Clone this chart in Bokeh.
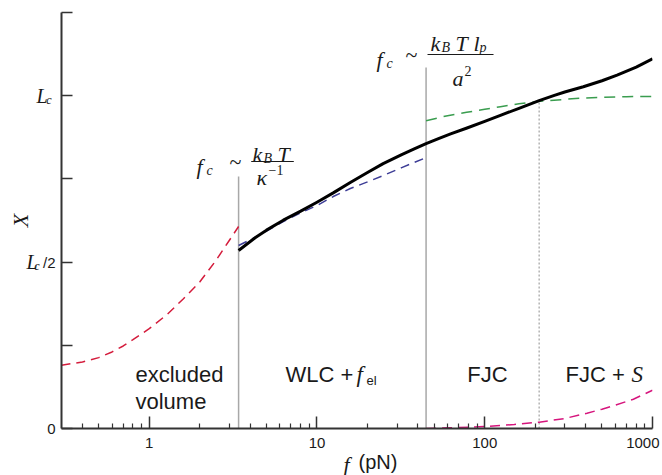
from bokeh.plotting import figure
from bokeh.models import Label, FixedTicker, LinearAxis, LogAxis, Range1d
from bokeh.embed import file_html
from bokeh.resources import INLINE

# ---- data (f in pN, X in units of Lc) ----
f_total = [3.41, 4.3, 5, 6.3, 8, 10, 12.5, 15.8, 20, 24.8, 32, 38, 44.7, 53, 62.6, 78.4,
           100, 124, 160, 211, 260, 300, 387, 500, 615, 800, 1000]
x_total = [0.535, 0.574, 0.596, 0.626, 0.653, 0.680, 0.708, 0.739, 0.769, 0.796,
           0.823, 0.840, 0.856, 0.871, 0.885, 0.903, 0.923, 0.941, 0.962, 0.985,
           1.001, 1.011, 1.027, 1.045, 1.062, 1.086, 1.111]

f_wlc = [3.41, 4.3, 5, 6.3, 8, 10, 12.5, 15.8, 20, 24.8, 32, 44.7]
x_wlc = [0.55, 0.575, 0.593, 0.622, 0.648, 0.670, 0.697, 0.721, 0.741, 0.760, 0.784, 0.814]

f_ev = [0.3, 0.4, 0.5, 0.6, 0.7, 0.8, 1.0, 1.28, 1.6, 2.0, 2.5, 3.0, 3.41]
x_ev = [0.19, 0.20, 0.213, 0.23, 0.248, 0.267, 0.30, 0.343, 0.39, 0.44, 0.505, 0.565, 0.607]

f_fjc = [44.7, 60, 78, 100, 124, 160, 211, 300, 387, 500, 700, 1000]
x_fjc = [0.925, 0.940, 0.950, 0.959, 0.967, 0.976, 0.983, 0.989, 0.993, 0.995, 0.997, 0.998]

f_s = [44.7, 60, 80, 100, 150, 211, 300, 407, 500, 600, 769, 1000]
x_s = [0.0, 0.002, 0.004, 0.006, 0.012, 0.019, 0.030, 0.046, 0.058, 0.070, 0.088, 0.115]

f_bounds = [3.41, 44.7]
top_bounds = [0.757, 1.085]
f_cross = [211]
top_cross = [0.985]

x_major = [1, 10, 100, 1000]
x_major_labels = ["1", "10", "100", "1000"]
x_minor = [0.4, 0.5, 0.6, 0.7, 0.8, 0.9, 2, 3, 4, 5, 6, 7, 8, 9,
           20, 30, 40, 50, 60, 70, 80, 90, 200, 300, 400, 500, 600, 700, 800, 900]
y_major = [0, 0.25, 0.5, 0.75, 1.0, 1.25]
y_named = {0.5: "L", 1.0: "L"}        # tick labels L_c/2 and L_c
x_title_pos = {"f": 15.0, "(pN)": 23.1}  # where the parts of the axis title sit (in pN)

NB = "\u00a0"
SERIF = "Liberation Serif"
SANS = "Liberation Sans"
INK = "#1a1a1a"
FRAME_L, FRAME_B = 61, 428   # frame left / bottom in picture pixels

p = figure(frame_width=591, frame_height=416, x_axis_type="log",
           x_range=(0.3, 1000), y_range=(0, 1.25),
           output_backend="svg", toolbar_location=None,
           min_border_left=FRAME_L, min_border_right=10, min_border_top=12,
           min_border_bottom=47)
p.outline_line_color = None
p.grid.visible = False
p.background_fill_color = "white"

xax = p.xaxis[0]
yax = p.yaxis[0]
for ax in (xax, yax):
    ax.axis_line_color = "#333333"
    ax.axis_line_width = 2
    ax.major_tick_line_color = "#333333"
    ax.major_tick_line_width = 1.5
    ax.minor_tick_line_color = "#333333"
    ax.minor_tick_line_width = 1.2
    ax.major_tick_out = 0
    ax.minor_tick_out = 0
    ax.major_label_text_font = SANS
    ax.major_label_text_font_size = "15px"
    ax.major_label_text_color = INK

xax.ticker = FixedTicker(ticks=x_major, minor_ticks=x_minor)
xax.major_tick_in = 12
xax.minor_tick_in = 5
xax.major_label_standoff = 5
ov = dict(zip(x_major, x_major_labels))
ov[1000] = x_major_labels[-1] + "\u2009"   # nudged left so it stays inside the picture
xax.major_label_overrides = ov

yax.ticker = FixedTicker(ticks=y_major, minor_ticks=[])
yax.major_tick_in = 11
yax.minor_tick_in = 0
yax.major_label_standoff = 6
yax.major_label_overrides = {0: "0", 0.25: "", 0.5: "/2", 0.75: "", 1: "", 1.25: ""}

def bare(ax):
    ax.axis_line_color = None
    ax.major_tick_line_color = None
    ax.minor_tick_line_color = None
    ax.major_tick_in = 0
    ax.major_tick_out = 0
    ax.minor_tick_in = 0
    ax.minor_tick_out = 0
    ax.major_label_text_color = INK
    return ax

# subscript "c" of the y tick labels (slightly lowered range)
p.extra_y_ranges = {"sub": Range1d(0.012, 1.262)}
axB = bare(LinearAxis(y_range_name="sub", ticker=FixedTicker(ticks=list(y_named))))
axB.major_label_overrides = {0.5: "c" + NB * 4, 1.0: "c"}
axB.major_label_text_font = SERIF
axB.major_label_text_font_style = "italic"
axB.major_label_text_font_size = "12px"
axB.major_label_standoff = -12
p.add_layout(axB, "left")

# italic L of the y tick labels, plus the axis title X
axC = bare(LinearAxis(ticker=FixedTicker(ticks=list(y_named))))
axC.major_label_overrides = {0.5: y_named[0.5] + "\u2002", 1.0: y_named[1.0]}
axC.major_label_text_font = SERIF
axC.major_label_text_font_style = "italic"
axC.major_label_text_font_size = "20px"
axC.major_label_standoff = -16
axC.axis_label = "X"
axC.axis_label_text_font = SERIF
axC.axis_label_text_font_style = "italic"
axC.axis_label_text_font_size = "22px"
axC.axis_label_text_color = INK
axC.axis_label_standoff = -10
p.add_layout(axC, "left")

# x axis title "f (pN)": two parts in two fonts, on one line
axD = bare(LogAxis(ticker=FixedTicker(ticks=[x_title_pos["(pN)"]])))
axD.major_label_overrides = {x_title_pos["(pN)"]: "(pN)"}
axD.major_label_text_font = SANS
axD.major_label_text_font_size = "20px"
axD.major_label_standoff = -3
p.add_layout(axD, "below")

axE = bare(LogAxis(ticker=FixedTicker(ticks=[x_title_pos["f"]])))
axE.major_label_overrides = {x_title_pos["f"]: "f"}
axE.major_label_text_font = SERIF
axE.major_label_text_font_style = "italic"
axE.major_label_text_font_size = "22px"
axE.major_label_standoff = -24
p.add_layout(axE, "below")

# region boundaries
p.segment(x0=f_bounds, y0=[0] * len(f_bounds), x1=f_bounds, y1=top_bounds,
          line_color="#a8a8a8", line_width=1.5)
p.segment(x0=f_cross, y0=[0], x1=f_cross, y1=top_cross,
          line_color="#a0a0a0", line_width=1.2, line_dash="2 2")

p.line(f_ev, x_ev, line_color="#d41c3c", line_width=1.5, line_dash="9 6")
p.line(f_wlc, x_wlc, line_color="#3d3d96", line_width=1.5, line_dash="9 6")
p.line(f_fjc, x_fjc, line_color="#3a9d4f", line_width=1.5, line_dash="11 7")
p.line(f_s, x_s, line_color="#d6157d", line_width=1.5, line_dash="10 6")
p.line(f_total, x_total, line_color="black", line_width=3, line_join="round")

def lab(px, py, text, size, font=SANS, style="normal", align="left",
        baseline="alphabetic"):
    # px, py: picture pixels; converted to screen units relative to the frame
    p.add_layout(Label(x=px - FRAME_L, y=FRAME_B - py, x_units="screen", y_units="screen",
                       text=text, text_font=font, text_font_size=f"{size}px",
                       text_font_style=style, text_align=align, text_baseline=baseline,
                       text_color=INK))

X0, PXD = 148.7, 167.76
def fx(px):
    return 10 ** ((px - X0) / PXD)
def fy(py):
    return (FRAME_B - py) / 332.8

def bar(px0, px1, py):
    p.segment(x0=[fx(px0)], y0=[fy(py)], x1=[fx(px1)], y1=[fy(py)],
              line_color=INK, line_width=1)

# formula 1: f_c ~ k_B T / kappa^-1
lab(196, 166, "f", 22, SERIF, "italic")
lab(206, 170, "c", 14, SERIF, "italic")
lab(235, 161, "~", 22, SERIF, align="center")
lab(252, 154, "k", 22, SERIF, "italic")
lab(263, 158, "B", 14, SERIF, "italic")
lab(277, 154, "T", 22, SERIF, "italic")
bar(250.7, 293.3, 161)
lab(256, 177, "κ", 22, SERIF, "italic")
lab(268, 169, "−1", 14, SERIF)

# formula 2: f_c ~ k_B T l_p / a^2
lab(376, 59, "f", 22, SERIF, "italic")
lab(386, 63, "c", 14, SERIF, "italic")
lab(411, 54, "~", 22, SERIF, align="center")
lab(430, 43, "k", 22, SERIF, "italic")
lab(441, 47, "B", 14, SERIF, "italic")
lab(455, 43, "T", 22, SERIF, "italic")
lab(473, 43, "l", 22, SERIF, "italic")
lab(479, 47, "p", 14, SERIF, "italic")
bar(427, 493, 54)
lab(452, 78, "a", 22, SERIF, "italic")
lab(464, 70, "2", 14, SERIF)

# regime labels
lab(135, 374, "excluded", 22)
lab(135, 401, "volume", 22)
lab(285, 374, "WLC +", 22)
lab(356, 374, "f", 23, SERIF, "italic")
lab(366, 380, "el", 13)
lab(487, 374, "FJC", 22, align="center")
lab(565, 374, "FJC +", 22)
lab(631, 374, "S", 23, SERIF, "italic")

open("out.html", "w").write(file_html(p, INLINE))
